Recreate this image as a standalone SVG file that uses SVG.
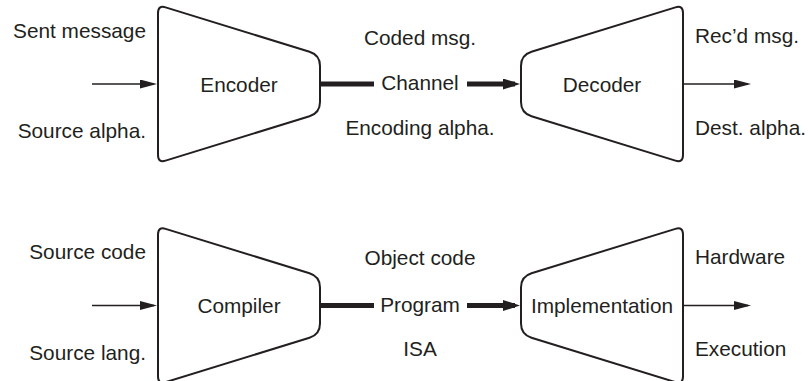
<svg xmlns="http://www.w3.org/2000/svg" width="808" height="381" viewBox="0 0 808 381">
  <style>
    .lbl { font-family: "Liberation Sans", Arial, sans-serif; font-size: 20.8px; fill: #231f20; }
    .e { text-anchor: end; }
    .m { text-anchor: middle; }
    .s { text-anchor: start; }
    .box { fill: #ffffff; stroke: #231f20; stroke-width: 2; stroke-linejoin: round; }
    .thin { stroke: #231f20; stroke-width: 1.7; fill: none; }
    .thick { stroke: #231f20; stroke-width: 5; fill: none; }
  </style>
  <defs>
    <path id="trap" d="M158,13 Q158,5 165.6,7.36 L309.5,51.76 Q320,55 320,66 L320,102 Q320,113 309.5,116.24 L165.6,160.64 Q158,163 158,155 Z"/>
    <marker id="headThin" markerUnits="userSpaceOnUse" markerWidth="18" markerHeight="10" refX="14" refY="4.5" orient="auto">
      <path d="M0,0 L17,4.5 L0,9 Z" fill="#231f20"/>
    </marker>
    <marker id="headThick" markerUnits="userSpaceOnUse" markerWidth="18" markerHeight="12" refX="12" refY="5.5" orient="auto">
      <path d="M0,0 L17,5.5 L0,11 Z" fill="#231f20"/>
    </marker>
  </defs>

  <!-- Top row -->
  <g id="encoder">
    <use href="#trap" class="box"/>
    <text class="lbl m" x="239" y="92">Encoder</text>
  </g>
  <g id="decoder">
    <use href="#trap" class="box" transform="translate(841,0) scale(-1,1)"/>
    <text class="lbl m" x="602" y="92">Decoder</text>
  </g>
  <g id="labels-top">
    <text class="lbl e" x="146" y="38">Sent message</text>
    <text class="lbl e" x="146" y="138">Source alpha.</text>
    <text class="lbl m" x="420" y="45">Coded msg.</text>
    <text class="lbl m" x="420" y="90">Channel</text>
    <text class="lbl m" x="420" y="135">Encoding alpha.</text>
    <text class="lbl s" x="695" y="43">Rec’d msg.</text>
    <text class="lbl s" x="695" y="135">Dest. alpha.</text>
  </g>

  <!-- Bottom row -->
  <g id="compiler">
    <use href="#trap" class="box" transform="translate(0,221.5)"/>
    <text class="lbl m" x="239" y="313">Compiler</text>
  </g>
  <g id="implementation">
    <use href="#trap" class="box" transform="translate(841,221.5) scale(-1,1)"/>
    <text class="lbl m" x="602" y="313">Implementation</text>
  </g>
  <g id="labels-bottom">
    <text class="lbl e" x="146" y="259">Source code</text>
    <text class="lbl e" x="146" y="360">Source lang.</text>
    <text class="lbl m" x="420" y="265">Object code</text>
    <text class="lbl m" x="420" y="312">Program</text>
    <text class="lbl m" x="420" y="356">ISA</text>
    <text class="lbl s" x="695" y="264">Hardware</text>
    <text class="lbl s" x="695" y="356">Execution</text>
  </g>

  <g id="connectors">
    <line class="thin" x1="92" y1="84" x2="154" y2="84" marker-end="url(#headThin)"/>
    <line class="thick" x1="320" y1="84" x2="374" y2="84"/>
    <line class="thick" x1="467" y1="84" x2="515" y2="84" marker-end="url(#headThick)"/>
    <line class="thin" x1="683" y1="84" x2="748" y2="84" marker-end="url(#headThin)"/>

    <line class="thin" x1="92" y1="305.5" x2="154" y2="305.5" marker-end="url(#headThin)"/>
    <line class="thick" x1="320" y1="305.5" x2="374" y2="305.5"/>
    <line class="thick" x1="467" y1="305.5" x2="515" y2="305.5" marker-end="url(#headThick)"/>
    <line class="thin" x1="683" y1="305.5" x2="748" y2="305.5" marker-end="url(#headThin)"/>
  </g>
</svg>
